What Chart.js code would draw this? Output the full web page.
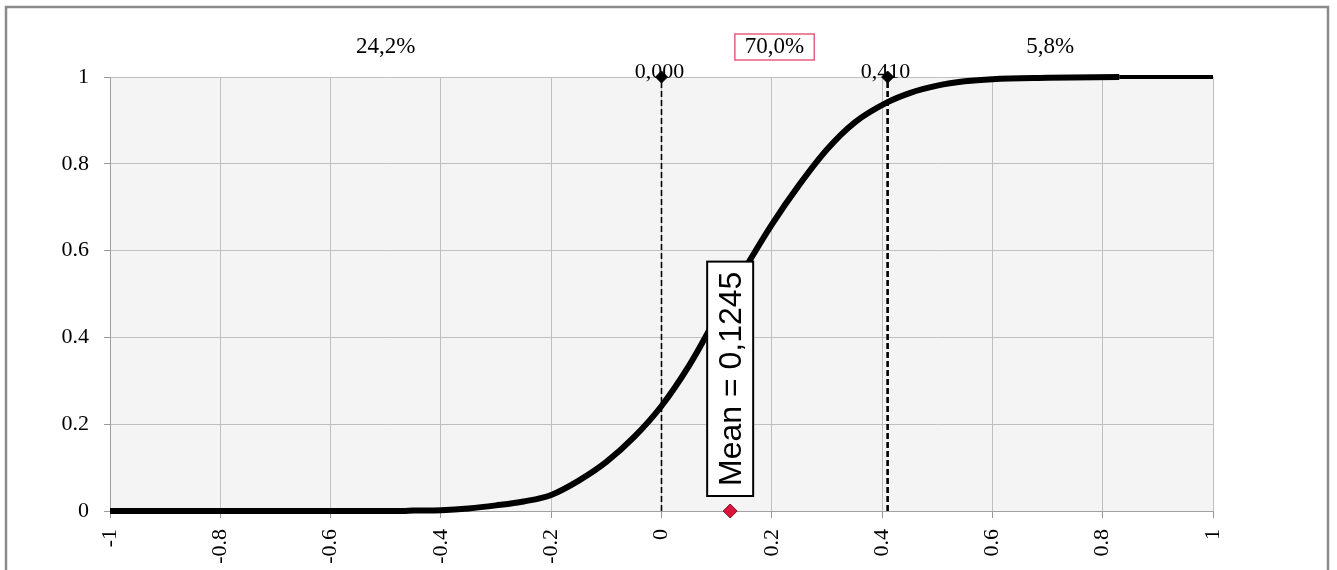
<!DOCTYPE html>
<html>
<head>
<meta charset="utf-8">
<script src="https://cdn.jsdelivr.net/npm/chart.js@4/dist/chart.umd.min.js"></script>
<style>
  html, body { margin: 0; padding: 0; background: #ffffff; }
  canvas { display: block; }
</style>
</head>
<body>
<canvas id="cdf" width="1337" height="570"></canvas>
<script>
// Cumulative distribution of the simulated result
const cdfX = [-1, -0.47, -0.45, -0.40, -0.35, -0.30, -0.25, -0.20, -0.15, -0.10, -0.05, 0,
              0.05, 0.10, 0.1245, 0.15, 0.20, 0.25, 0.30, 0.35, 0.41, 0.45, 0.50,
              0.55, 0.60, 0.70, 0.83];
const cdfY = [0, 0, 0.001, 0.002, 0.006, 0.013, 0.022, 0.037, 0.07, 0.113, 0.17, 0.242,
              0.335, 0.447, 0.5, 0.556, 0.66, 0.752, 0.833, 0.895, 0.942, 0.963, 0.98,
              0.99, 0.995, 0.998, 1];
// Flat tail up to the right edge of the axis
const tailX = [0.83, 1];
const tailY = [1, 1];

// Cut-off values and the share of outcomes in each region
const cutValues = [0, 0.41];
const regionShares = [24.2, 70.0, 5.8];
const highlightedRegion = 1;
const meanValue = 0.1245;

// Axis ticks
const xTickValues = [-1, -0.8, -0.6, -0.4, -0.2, 0, 0.2, 0.4, 0.6, 0.8, 1];
const xTickLabels = ['-1', '-0.8', '-0.6', '-0.4', '-0.2', '0', '0.2', '0.4', '0.6', '0.8', '1'];
const yTickValues = [0, 0.2, 0.4, 0.6, 0.8, 1];
const yTickLabels = ['0', '0.2', '0.4', '0.6', '0.8', '1'];

const SERIF = "'Liberation Serif', 'Times New Roman', serif";
const SANS = "'Liberation Sans', Arial, sans-serif";

const fmt = (v, d) => v.toFixed(d).replace('.', ',');
const pts = (xs, ys) => xs.map((x, i) => ({ x: x, y: ys[i] }));

const datasets = [];
// mean marker on the x axis
datasets.push({
  data: [{ x: meanValue, y: 0 }],
  pointStyle: 'rectRot',
  pointRadius: 7,
  pointBackgroundColor: '#dc143c',
  pointBorderColor: '#7a1020',
  pointBorderWidth: 1,
  showLine: false,
  clip: false
});
// dashed cut-off lines with a diamond at the top
cutValues.forEach((c, i) => {
  datasets.push({
    data: [{ x: c, y: 0 }, { x: c, y: 1 }],
    showLine: true,
    borderColor: '#000000',
    borderWidth: i === 0 ? 1.6 : 2.6,
    borderDash: [6, 3],
    pointStyle: 'rectRot',
    pointRadius: [0, 6],
    pointBackgroundColor: '#000000',
    pointBorderColor: '#000000',
    pointBorderWidth: 1,
    clip: false
  });
});
// distribution curve
datasets.push({
  data: pts(cdfX, cdfY),
  showLine: true,
  borderColor: '#000000',
  borderWidth: 6,
  pointRadius: 0,
  cubicInterpolationMode: 'monotone',
  clip: false
});
datasets.push({
  data: pts(tailX, tailY),
  showLine: true,
  borderColor: '#000000',
  borderWidth: 4,
  pointRadius: 0,
  clip: false
});

const decorations = {
  id: 'decorations',
  beforeDraw(chart) {
    const { ctx, chartArea: a } = chart;
    ctx.save();
    ctx.fillStyle = '#ffffff';
    ctx.fillRect(0, 0, chart.width, chart.height);
    ctx.fillStyle = '#f4f4f4';
    ctx.fillRect(a.left, a.top, a.right - a.left, a.bottom - a.top);
    ctx.restore();
  },
  beforeDatasetsDraw(chart) {
    const { ctx, chartArea: a, scales: { x } } = chart;
    ctx.save();
    ctx.font = '22px ' + SERIF;
    ctx.fillStyle = '#000000';
    ctx.textAlign = 'center';
    ctx.textBaseline = 'alphabetic';
    cutValues.forEach(c => {
      ctx.fillText(fmt(c, 3), x.getPixelForValue(c) - 2, a.top + 1);
    });
    ctx.restore();
  },
  afterDatasetsDraw(chart) {
    const { ctx, chartArea: a, scales: { x, y } } = chart;
    ctx.save();
    // region shares above the plot
    const bounds = [x.min, ...cutValues, x.max].map(v => x.getPixelForValue(v));
    ctx.font = '23px ' + SERIF;
    ctx.textAlign = 'center';
    ctx.textBaseline = 'alphabetic';
    regionShares.forEach((s, i) => {
      const cx = (bounds[i] + bounds[i + 1]) / 2;
      const label = fmt(s, 1) + '%';
      const baseY = a.top - 24;
      if (i === highlightedRegion) {
        const w = ctx.measureText(label).width + 20;
        ctx.fillStyle = '#ffffff';
        ctx.fillRect(cx - w / 2, baseY - 19, w, 26);
        ctx.strokeStyle = '#e4607c';
        ctx.lineWidth = 1.5;
        ctx.strokeRect(cx - w / 2, baseY - 19, w, 26);
      }
      ctx.fillStyle = '#000000';
      ctx.fillText(label, cx, baseY);
    });

    // vertical mean label
    const mx = x.getPixelForValue(meanValue);
    const bottom = y.getPixelForValue(0) - 15;
    ctx.font = '32px ' + SANS;
    const text = 'Mean = ' + fmt(meanValue, 4);
    const tw = ctx.measureText(text).width;
    const boxH = tw + 20;
    const boxW = 46;
    ctx.fillStyle = '#ffffff';
    ctx.fillRect(mx - boxW / 2, bottom - boxH, boxW, boxH);
    ctx.strokeStyle = '#000000';
    ctx.lineWidth = 2;
    ctx.strokeRect(mx - boxW / 2, bottom - boxH, boxW, boxH);
    ctx.translate(mx, bottom - boxH / 2);
    ctx.rotate(-Math.PI / 2);
    ctx.fillStyle = '#000000';
    ctx.textAlign = 'center';
    ctx.textBaseline = 'middle';
    ctx.fillText(text, 0, 2);
    ctx.restore();
  },
  afterDraw(chart) {
    const { ctx } = chart;
    ctx.save();
    ctx.strokeStyle = '#8a8a8a';
    ctx.lineWidth = 2.5;
    ctx.strokeRect(6, 7, 1322, 600);
    ctx.restore();
  }
};

new Chart(document.getElementById('cdf'), {
  type: 'scatter',
  data: { datasets: datasets },
  options: {
    responsive: false,
    animation: false,
    events: [],
    layout: { padding: { top: 77, right: 124, left: 0, bottom: 0 } },
    plugins: {
      legend: { display: false },
      tooltip: { enabled: false },
      title: { display: false }
    },
    scales: {
      x: {
        type: 'linear',
        min: -1,
        max: 1,
        afterBuildTicks: s => { s.ticks = xTickValues.map(v => ({ value: v })); },
        afterFit: s => { s.height = 59; },
        ticks: {
          autoSkip: false,
          minRotation: 90,
          maxRotation: 90,
          padding: 11,
          color: '#000000',
          font: { family: SERIF, size: 22 },
          callback: (v, i) => xTickLabels[i]
        },
        grid: { color: '#c0c0c0', lineWidth: 1, tickLength: 7, tickColor: '#999999' },
        border: { display: true, color: '#a0a0a0', width: 1 }
      },
      y: {
        type: 'linear',
        min: 0,
        max: 1,
        afterBuildTicks: s => { s.ticks = yTickValues.map(v => ({ value: v })); },
        afterFit: s => { s.width = 110; },
        ticks: {
          padding: 15,
          color: '#000000',
          font: { family: SERIF, size: 22 },
          callback: (v, i) => yTickLabels[i]
        },
        grid: { color: '#c0c0c0', lineWidth: 1, tickLength: 6, tickColor: '#999999' },
        border: { display: true, color: '#a0a0a0', width: 1 }
      }
    }
  },
  plugins: [decorations]
});
</script>
</body>
</html>
